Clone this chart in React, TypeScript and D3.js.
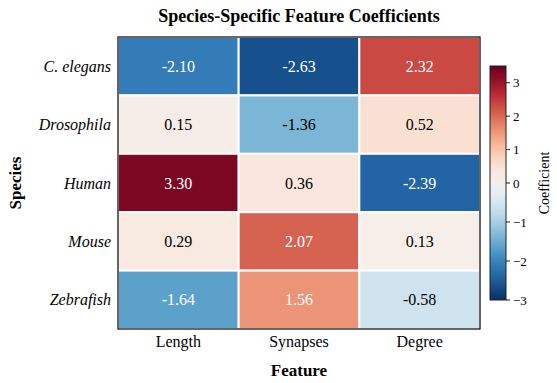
import React, { useEffect, useRef } from "react";
import * as d3 from "d3";

const width = 557;
const height = 383;

const species = ["C. elegans", "Drosophila", "Human", "Mouse", "Zebrafish"];
const features = ["Length", "Synapses", "Degree"];
// one array per feature, ordered like species
const lengthCoef = [-2.1, 0.15, 3.3, 0.29, -1.64];
const synapsesCoef = [-2.63, -1.36, 0.36, 2.07, 1.56];
const degreeCoef = [2.32, 0.52, -2.39, 0.13, -0.58];
const cbarTicks = [-3, -2, -1, 0, 1, 2, 3];
const normDomain = [-3, 0, 3.5];

const serif = "'Liberation Serif', 'DejaVu Serif', serif";

export default function App() {
  const ref = useRef<SVGSVGElement>(null);

  useEffect(() => {
    const svg = d3.select(ref.current);
    svg.selectAll("*").remove();

    const cols = [lengthCoef, synapsesCoef, degreeCoef];
    const cells = [];
    features.forEach((f, j) => {
      species.forEach((s, i) => {
        cells.push({ f, s, v: cols[j][i] });
      });
    });

    const margin = { left: 118, right: 480, top: 37, bottom: 329 };
    const x = d3.scaleBand().domain(features).range([margin.left, margin.right]);
    const y = d3.scaleBand().domain(species).range([margin.top, margin.bottom]);

    // two-slope norm, then reversed RdBu
    const norm = d3.scaleLinear().domain(normDomain).range([0, 0.5, 1]).clamp(true);
    const color = (v) => d3.interpolateRdBu(1 - norm(v));

    const g = svg.append("g");
    g.selectAll("rect.cell")
      .data(cells)
      .enter()
      .append("rect")
      .attr("class", "cell")
      .attr("x", (d) => x(d.f))
      .attr("y", (d) => y(d.s))
      .attr("width", x.bandwidth())
      .attr("height", y.bandwidth())
      .attr("fill", (d) => color(d.v))
      .attr("stroke", "white")
      .attr("stroke-width", 2);

    g.selectAll("text.val")
      .data(cells)
      .enter()
      .append("text")
      .attr("class", "val")
      .attr("x", (d) => x(d.f) + x.bandwidth() / 2)
      .attr("y", (d) => y(d.s) + y.bandwidth() / 2)
      .attr("dy", "0.35em")
      .attr("text-anchor", "middle")
      .attr("font-family", serif)
      .attr("font-size", 16)
      .attr("fill", (d) => (Math.abs(d.v) > 1.45 ? "white" : "black"))
      .text((d) => d.v.toFixed(2));

    // frame
    g.append("rect")
      .attr("x", margin.left)
      .attr("y", margin.top)
      .attr("width", margin.right - margin.left)
      .attr("height", margin.bottom - margin.top)
      .attr("fill", "none")
      .attr("stroke", "black")
      .attr("stroke-width", 1.2);

    // tick labels
    g.selectAll("text.ylab")
      .data(species)
      .enter()
      .append("text")
      .attr("class", "ylab")
      .attr("x", margin.left - 7)
      .attr("y", (d) => y(d) + y.bandwidth() / 2)
      .attr("dy", "0.35em")
      .attr("text-anchor", "end")
      .attr("font-family", serif)
      .attr("font-style", "italic")
      .attr("font-size", 16)
      .text((d) => d);

    g.selectAll("text.xlab")
      .data(features)
      .enter()
      .append("text")
      .attr("class", "xlab")
      .attr("x", (d) => x(d) + x.bandwidth() / 2)
      .attr("y", margin.bottom + 18)
      .attr("text-anchor", "middle")
      .attr("font-family", serif)
      .attr("font-size", 16)
      .text((d) => d);

    const cx = (margin.left + margin.right) / 2;
    svg.append("text")
      .attr("x", cx)
      .attr("y", 22)
      .attr("text-anchor", "middle")
      .attr("font-family", serif)
      .attr("font-weight", "bold")
      .attr("font-size", 18)
      .text("Species-Specific Feature Coefficients");

    svg.append("text")
      .attr("x", cx)
      .attr("y", 376)
      .attr("text-anchor", "middle")
      .attr("font-family", serif)
      .attr("font-weight", "bold")
      .attr("font-size", 17)
      .text("Feature");

    svg.append("text")
      .attr("transform", `translate(21,${(margin.top + margin.bottom) / 2}) rotate(-90)`)
      .attr("text-anchor", "middle")
      .attr("font-family", serif)
      .attr("font-weight", "bold")
      .attr("font-size", 17)
      .text("Species");

    // colorbar
    const cb = { x: 490, w: 16, top: 66, bottom: 300 };
    const cy = d3
      .scaleLinear()
      .domain(normDomain)
      .range([cb.bottom, (cb.top + cb.bottom) / 2, cb.top]);

    const grad = svg
      .append("defs")
      .append("linearGradient")
      .attr("id", "cbgrad")
      .attr("x1", 0)
      .attr("y1", 1)
      .attr("x2", 0)
      .attr("y2", 0);
    d3.range(0, 1.0001, 0.05).forEach((t) => {
      grad.append("stop").attr("offset", t).attr("stop-color", d3.interpolateRdBu(1 - t));
    });

    svg.append("rect")
      .attr("x", cb.x)
      .attr("y", cb.top)
      .attr("width", cb.w)
      .attr("height", cb.bottom - cb.top)
      .attr("fill", "url(#cbgrad)")
      .attr("stroke", "#222")
      .attr("stroke-width", 1);

    const ticks = svg.append("g");
    ticks.selectAll("line")
      .data(cbarTicks)
      .enter()
      .append("line")
      .attr("x1", cb.x + cb.w)
      .attr("x2", cb.x + cb.w + 4)
      .attr("y1", (d) => cy(d))
      .attr("y2", (d) => cy(d))
      .attr("stroke", "#222")
      .attr("stroke-width", 1);
    ticks.selectAll("text")
      .data(cbarTicks)
      .enter()
      .append("text")
      .attr("x", cb.x + cb.w + 7)
      .attr("y", (d) => cy(d))
      .attr("dy", "0.35em")
      .attr("font-family", serif)
      .attr("font-size", 13)
      .text((d) => (d < 0 ? "\u2212" + Math.abs(d) : String(d)));

    svg.append("text")
      .attr("transform", `translate(549,${(cb.top + cb.bottom) / 2}) rotate(-90)`)
      .attr("text-anchor", "middle")
      .attr("font-family", serif)
      .attr("font-size", 14)
      .text("Coefficient");
  }, []);

  return (
    <svg
      ref={ref}
      width={width}
      height={height}
      style={{ position: "absolute", left: 0, top: 0, background: "white" }}
    />
  );
}
